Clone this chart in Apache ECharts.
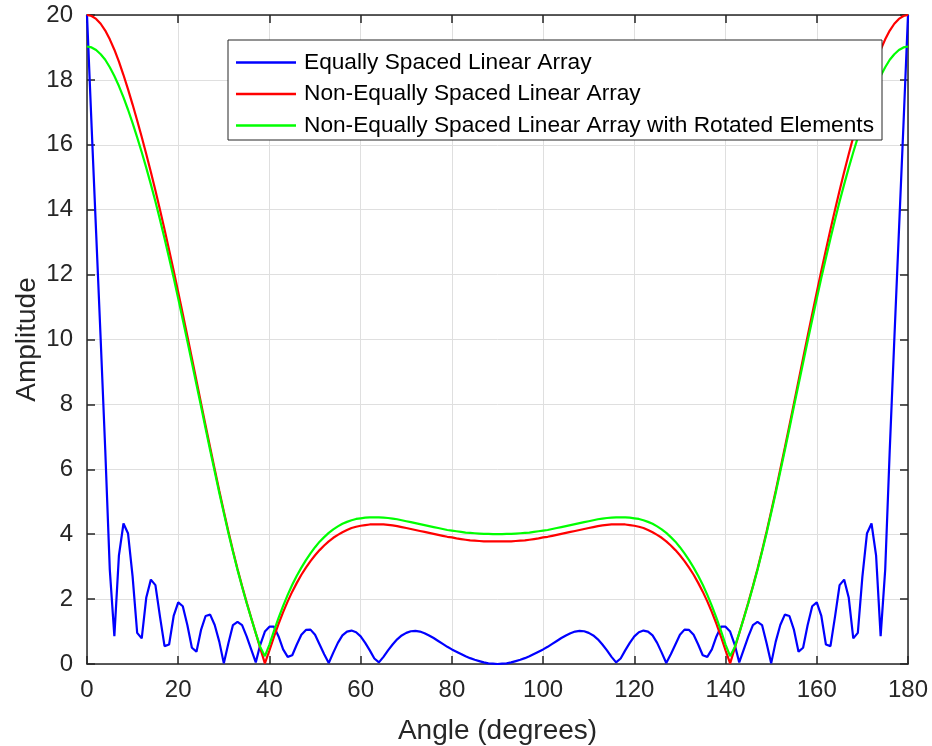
<!DOCTYPE html>
<html>
<head>
<meta charset="utf-8">
<script src="https://cdn.jsdelivr.net/npm/echarts@6/dist/echarts.min.js"></script>
<style>
  html, body { margin: 0; padding: 0; background: #fff; }
  #chart { width: 932px; height: 746px; }
</style>
</head>
<body>
<div id="chart"></div>
<script>
// angle samples, 1 degree apart
const angles = Array.from({ length: 181 }, (_, i) => i);

// values, one per degree (0..180)
const equalArray = [
  20.0, 16.6, 13.3, 10.0, 6.6, 2.9, 0.86, 3.35, 4.33, 4.02,
  2.69, 0.96, 0.79, 2.05, 2.6, 2.43, 1.46, 0.55, 0.6, 1.48,
  1.9, 1.78, 1.2, 0.5, 0.38, 1.05, 1.48, 1.52, 1.2, 0.69,
  0.02, 0.64, 1.2, 1.3, 1.2, 0.85, 0.45, 0.05, 0.6, 1.0,
  1.15, 1.15, 0.85, 0.45, 0.22, 0.27, 0.6, 0.9, 1.05, 1.06,
  0.9, 0.6, 0.3, 0.03, 0.35, 0.65, 0.88, 1.0, 1.03, 0.98,
  0.85, 0.65, 0.42, 0.17, 0.05, 0.22, 0.42, 0.6, 0.76, 0.88,
  0.96, 1.01, 1.02, 1.0, 0.95, 0.88, 0.8, 0.71, 0.62, 0.53,
  0.45, 0.38, 0.31, 0.24, 0.18, 0.13, 0.09, 0.05, 0.02, 0.01,
  0.0,
  0.01, 0.02, 0.05, 0.09, 0.13, 0.18, 0.24, 0.31, 0.38, 0.45,
  0.53, 0.62, 0.71, 0.8, 0.88, 0.95, 1.0, 1.02, 1.01, 0.96,
  0.88, 0.76, 0.6, 0.42, 0.22, 0.05, 0.17, 0.42, 0.65, 0.85,
  0.98, 1.03, 1.0, 0.88, 0.65, 0.35, 0.03, 0.3, 0.6, 0.9,
  1.06, 1.05, 0.9, 0.6, 0.27, 0.22, 0.45, 0.85, 1.15, 1.15,
  1.0, 0.6, 0.05, 0.45, 0.85, 1.2, 1.3, 1.2, 0.64, 0.02,
  0.69, 1.2, 1.52, 1.48, 1.05, 0.38, 0.5, 1.2, 1.78, 1.9,
  1.48, 0.6, 0.55, 1.46, 2.43, 2.6, 2.05, 0.79, 0.96, 2.69,
  4.02, 4.33, 3.35, 0.86, 2.9, 6.6, 10.0, 13.3, 16.6, 20.0
];

const nonEqualArray = [
  20.0, 19.97, 19.88, 19.73, 19.52, 19.25, 18.93, 18.56, 18.15, 17.71,
  17.24, 16.75, 16.24, 15.71, 15.16, 14.59, 14.0, 13.39, 12.76, 12.12,
  11.46, 10.79, 10.11, 9.42, 8.73, 8.04, 7.35, 6.67, 6.0, 5.34,
  4.7, 4.08, 3.49, 2.93, 2.4, 1.9, 1.42, 0.95, 0.48, 0.02,
  0.42, 0.84, 1.24, 1.6, 1.93, 2.23, 2.5, 2.75, 2.97, 3.17,
  3.35, 3.51, 3.65, 3.78, 3.89, 3.98, 4.06, 4.13, 4.19, 4.23,
  4.26, 4.28, 4.3, 4.3, 4.3, 4.3, 4.29, 4.27, 4.25, 4.22,
  4.19, 4.16, 4.13, 4.1, 4.07, 4.04, 4.01, 3.98, 3.95, 3.92,
  3.9, 3.87, 3.85, 3.83, 3.81, 3.8, 3.79, 3.78, 3.78, 3.78,
  3.78,
  3.78, 3.78, 3.78, 3.79, 3.8, 3.81, 3.83, 3.85, 3.87, 3.9,
  3.92, 3.95, 3.98, 4.01, 4.04, 4.07, 4.1, 4.13, 4.16, 4.19,
  4.22, 4.25, 4.27, 4.29, 4.3, 4.3, 4.3, 4.3, 4.28, 4.26,
  4.23, 4.19, 4.13, 4.06, 3.98, 3.89, 3.78, 3.65, 3.51, 3.35,
  3.17, 2.97, 2.75, 2.5, 2.23, 1.93, 1.6, 1.24, 0.84, 0.42,
  0.02, 0.48, 0.95, 1.42, 1.9, 2.4, 2.93, 3.49, 4.08, 4.7,
  5.34, 6.0, 6.67, 7.35, 8.04, 8.73, 9.42, 10.11, 10.79, 11.46,
  12.12, 12.76, 13.39, 14.0, 14.59, 15.16, 15.71, 16.24, 16.75, 17.24,
  17.71, 18.15, 18.56, 18.93, 19.25, 19.52, 19.73, 19.88, 19.97, 20.0
];

const rotatedArray = [
  19.03, 19.0, 18.92, 18.79, 18.62, 18.39, 18.12, 17.81, 17.46, 17.08,
  16.67, 16.23, 15.77, 15.29, 14.78, 14.25, 13.69, 13.11, 12.51, 11.9,
  11.26, 10.61, 9.95, 9.28, 8.61, 7.94, 7.26, 6.59, 5.93, 5.28,
  4.65, 4.04, 3.46, 2.9, 2.38, 1.88, 1.41, 0.95, 0.52, 0.24,
  0.6, 1.02, 1.42, 1.79, 2.13, 2.44, 2.72, 2.97, 3.2, 3.41,
  3.6, 3.77, 3.91, 4.04, 4.15, 4.24, 4.32, 4.38, 4.43, 4.47,
  4.49, 4.51, 4.52, 4.52, 4.52, 4.51, 4.5, 4.48, 4.46, 4.43,
  4.4, 4.37, 4.34, 4.31, 4.28, 4.25, 4.22, 4.19, 4.16, 4.13,
  4.11, 4.09, 4.07, 4.05, 4.04, 4.03, 4.02, 4.01, 4.01, 4.0,
  4.0,
  4.0, 4.01, 4.01, 4.02, 4.03, 4.04, 4.05, 4.07, 4.09, 4.11,
  4.13, 4.16, 4.19, 4.22, 4.25, 4.28, 4.31, 4.34, 4.37, 4.4,
  4.43, 4.46, 4.48, 4.5, 4.51, 4.52, 4.52, 4.52, 4.51, 4.49,
  4.47, 4.43, 4.38, 4.32, 4.24, 4.15, 4.04, 3.91, 3.77, 3.6,
  3.41, 3.2, 2.97, 2.72, 2.44, 2.13, 1.79, 1.42, 1.02, 0.6,
  0.24, 0.52, 0.95, 1.41, 1.88, 2.38, 2.9, 3.46, 4.04, 4.65,
  5.28, 5.93, 6.59, 7.26, 7.94, 8.61, 9.28, 9.95, 10.61, 11.26,
  11.9, 12.51, 13.11, 13.69, 14.25, 14.78, 15.29, 15.77, 16.23, 16.67,
  17.08, 17.46, 17.81, 18.12, 18.39, 18.62, 18.79, 18.92, 19.0, 19.03
];

const seriesNames = [
  'Equally Spaced Linear Array',
  'Non-Equally Spaced Linear Array',
  'Non-Equally Spaced Linear Array with Rotated Elements'
];
const seriesColors = ['#0000ff', '#ff0000', '#00ff00'];

const FONT = 'Liberation Sans, Arial, Helvetica, sans-serif';
const INK = '#262626';

function pairs(vals) {
  return angles.map((a, i) => [a, vals[i]]);
}

function lineSeries(idx, vals) {
  return {
    name: seriesNames[idx],
    type: 'line',
    data: pairs(vals),
    showSymbol: false,
    symbol: 'none',
    smooth: false,
    animation: false,
    lineStyle: { color: seriesColors[idx], width: 2.2 },
    itemStyle: { color: seriesColors[idx] }
  };
}

const boxAxis = {
  axisLine: { show: true, onZero: false, lineStyle: { color: INK, width: 1.5 } },
  axisTick: { show: true, inside: true, length: 8, lineStyle: { color: INK, width: 1.5 } },
  axisLabel: { show: false },
  splitLine: { show: false }
};

const chart = echarts.init(document.getElementById('chart'));
chart.setOption({
  backgroundColor: '#ffffff',
  animation: false,
  grid: { left: 87, right: 24, top: 15, bottom: 82, outerBoundsMode: 'none', containLabel: false },
  legend: {
    orient: 'vertical',
    left: 228,
    top: 40,
    padding: [11, 8, 3, 8],
    itemGap: 8.5,
    itemWidth: 60,
    itemHeight: 2.5,
    icon: 'rect',
    backgroundColor: '#ffffff',
    borderColor: INK,
    borderWidth: 1,
    textStyle: { fontFamily: FONT, fontSize: 22.7, color: '#000', padding: [0, 0, 0, 3] },
    data: seriesNames
  },
  xAxis: [
    {
      type: 'value', min: 0, max: 180, interval: 20,
      name: 'Angle (degrees)', nameLocation: 'middle', nameGap: 53,
      nameMoveOverlap: false,
      nameTextStyle: { fontFamily: FONT, fontSize: 28, color: INK },
      axisLine: { show: true, onZero: false, lineStyle: { color: INK, width: 1.5 } },
      axisTick: { show: true, inside: true, length: 8, lineStyle: { color: INK, width: 1.5 } },
      axisLabel: { fontFamily: FONT, fontSize: 24, color: INK, margin: 14 },
      splitLine: { show: true, lineStyle: { color: '#dfdfdf', width: 1 } }
    },
    Object.assign({ type: 'value', position: 'top', min: 0, max: 180, interval: 20 }, boxAxis)
  ],
  yAxis: [
    {
      type: 'value', min: 0, max: 20, interval: 2,
      name: 'Amplitude', nameLocation: 'middle', nameGap: 46,
      nameMoveOverlap: false,
      nameTextStyle: { fontFamily: FONT, fontSize: 28, color: INK },
      axisLine: { show: true, onZero: false, lineStyle: { color: INK, width: 1.5 } },
      axisTick: { show: true, inside: true, length: 8, lineStyle: { color: INK, width: 1.5 } },
      axisLabel: { fontFamily: FONT, fontSize: 24, color: INK, margin: 14 },
      splitLine: { show: true, lineStyle: { color: '#dfdfdf', width: 1 } }
    },
    Object.assign({ type: 'value', position: 'right', min: 0, max: 20, interval: 2 }, boxAxis)
  ],
  series: [
    lineSeries(0, equalArray),
    lineSeries(1, nonEqualArray),
    lineSeries(2, rotatedArray)
  ]
});
</script>
</body>
</html>
